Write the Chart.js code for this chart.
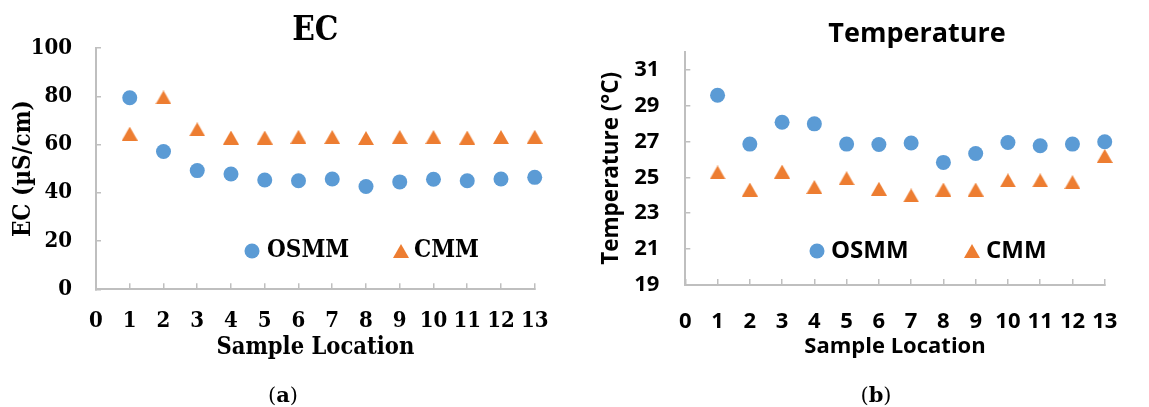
<!DOCTYPE html>
<html><head><meta charset="utf-8">
<script src="https://cdn.jsdelivr.net/npm/chart.js@4.4.1/dist/chart.umd.min.js"></script>
<style>
html,body{margin:0;padding:0;background:#fff;}
#wrap{position:relative;width:1149px;height:407px;overflow:hidden;background:#fff;}
canvas{position:absolute;top:0;}
#c1{left:0;} #c2{left:575px;}
.cap{position:absolute;top:381px;width:60px;margin-left:-30px;text-align:center;font:21px 'DejaVu Serif',serif;color:#000;line-height:28px;}
</style></head><body>
<div id="wrap">
<canvas id="c1" width="575" height="407"></canvas>
<canvas id="c2" width="574" height="407"></canvas>
<div class="cap" style="left:283px">(<b>a</b>)</div>
<div class="cap" style="left:876px">(<b>b</b>)</div>
</div>
<script>
// ---- data ----
const sampleLocations = [1,2,3,4,5,6,7,8,9,10,11,12,13];
const xTickValues = [0,1,2,3,4,5,6,7,8,9,10,11,12,13];
const ecOSMM = [79.4, 57.1, 49.2, 47.8, 45.3, 45.0, 45.7, 42.6, 44.5, 45.6, 45.0, 45.7, 46.4];
const ecCMM  = [64.5, 79.5, 66.3, 62.9, 62.9, 63.2, 63.1, 62.7, 63.1, 63.1, 62.9, 63.1, 63.2];
const ecTicks = [0,20,40,60,80,100];
const tempOSMM = [29.57, 26.85, 28.07, 27.98, 26.85, 26.83, 26.91, 25.83, 26.33, 26.94, 26.76, 26.85, 26.98];
const tempCMM  = [25.27, 24.32, 25.32, 24.46, 24.95, 24.36, 23.99, 24.32, 24.32, 24.83, 24.83, 24.73, 26.19];
const tempTicks = [19,21,23,25,27,29,31];

// ---- styles ----
const BLUE = '#5B9BD5', ORANGE = '#ED7D31', AX = '#BFBFBF';
const SERIF = "'DejaVu Serif Condensed', 'DejaVu Serif', serif";
const SW = 'bold condensed';
const SANS = "'Open Sans', sans-serif";

function triangleImg(w, h, color){
  const c = document.createElement('canvas'); c.width = w; c.height = h;
  const g = c.getContext('2d'); g.fillStyle = color;
  g.beginPath(); g.moveTo(w/2, 0); g.lineTo(w, h); g.lineTo(0, h); g.closePath(); g.fill();
  return c;
}
const tri = triangleImg(16, 14, ORANGE);

const insideLegend = {
  id: 'insideLegend',
  afterDraw(chart, args, opts){
    const ctx = chart.ctx;
    ctx.save();
    ctx.font = opts.font; ctx.fillStyle = '#000'; ctx.textBaseline = 'middle'; ctx.textAlign = 'left';
    chart.data.datasets.forEach((ds, i) => {
      const it = opts.items[i];
      if (ds.pointStyle === 'circle') {
        ctx.fillStyle = ds.backgroundColor;
        ctx.beginPath(); ctx.arc(it.mx, it.y, 7.5, 0, Math.PI*2); ctx.fill();
      } else {
        ctx.drawImage(ds.pointStyle, it.mx - ds.pointStyle.width/2, it.y - ds.pointStyle.height/2);
      }
      ctx.fillStyle = '#000';
      ctx.fillText(ds.label, it.tx, it.y);
    });
    ctx.restore();
  }
};
const titleShift = {
  id: 'titleShift',
  afterLayout(chart, args, opts){
    const t = chart.titleBlock;
    if (t && opts.dx) { t.left += opts.dx; t.right += opts.dx; }
  }
};

function pts(ys){ return sampleLocations.map((x, i) => ({x, y: ys[i]})); }

function makeChart(id, c){
  return new Chart(document.getElementById(id), {
    type: 'scatter',
    data: { datasets: [
      {label: 'OSMM', data: pts(c.osmm), pointStyle: 'circle', pointRadius: 7.5, backgroundColor: BLUE, borderWidth: 0, clip: false},
      {label: 'CMM', data: pts(c.cmm), pointStyle: tri, pointRadius: 8, backgroundColor: ORANGE, borderWidth: 0, clip: false}
    ]},
    options: {
      responsive: false, animation: false, events: [], devicePixelRatio: 1,
      layout: {padding: c.pad},
      plugins: {
        legend: {display: false}, tooltip: {enabled: false},
        title: {display: true, text: c.title, fullSize: false, color: '#000',
          font: {family: c.family, weight: c.weight, size: c.titleSize, lineHeight: 1}, padding: c.titlePad},
        insideLegend: {font: c.legendFont, items: c.legendItems},
        titleShift: {dx: c.titleDx}
      },
      scales: {
        x: {
          type: 'linear', min: 0, max: 13,
          afterBuildTicks: s => { s.ticks = xTickValues.map(v => ({value: v})); },
          afterFit: s => { s.height = c.xHeight; },
          grid: {drawOnChartArea: false, drawTicks: true, tickLength: -6, color: AX, lineWidth: 1.5},
          border: {display: true, color: AX, width: 2},
          ticks: {autoSkip: false, maxRotation: 0, minRotation: 0, padding: c.xTickPad, color: '#000',
            font: {family: c.family, weight: c.weight, size: c.tickSize, lineHeight: 1}},
          title: {display: true, text: 'Sample Location', color: '#000',
            font: {family: c.family, weight: c.weight, size: c.xTitleSize, lineHeight: 1}, padding: {top: 0, bottom: c.xTitlePadB}}
        },
        y: {
          type: 'linear', min: c.ymin, max: c.ymax,
          afterBuildTicks: s => { s.ticks = c.yTicks.map(v => ({value: v})); },
          afterFit: s => { s.width = c.yWidth; },
          grid: {drawOnChartArea: false, drawTicks: true, tickLength: -5, color: AX, lineWidth: 1.5},
          border: {display: true, color: AX, width: 2},
          ticks: {padding: c.yTickPad, color: '#000',
            font: {family: c.family, weight: c.weight, size: c.tickSize, lineHeight: 1}},
          title: {display: true, text: c.yTitle, color: '#000',
            font: {family: c.family, weight: c.weight, size: c.yTitleSize, lineHeight: 1}, padding: {top: c.yTitlePadT, bottom: 0}}
        }
      }
    },
    plugins: [insideLegend, titleShift]
  });
}

makeChart('c1', {
  osmm: ecOSMM, cmm: ecCMM, ymin: 0, ymax: 100, yTicks: ecTicks,
  title: 'EC', yTitle: 'EC (µS/cm)', family: SERIF, weight: SW,
  pad: {left: 0, right: 36, top: 0, bottom: 40},
  titleSize: 33, titlePad: {top: 15, bottom: 0}, titleDx: 0,
  tickSize: 22, xTickPad: 26.5, yTickPad: 29,
  xHeight: 77.7, yWidth: 96,
  xTitleSize: 23.5, xTitlePadB: 7.3,
  yTitleSize: 24, yTitlePadT: 12,
  legendFont: "bold condensed 24px " + SERIF,
  legendItems: [{mx: 252, tx: 267, y: 251}, {mx: 401, tx: 414, y: 251}]
});

makeChart('c2', {
  osmm: tempOSMM, cmm: tempCMM, ymin: 19, ymax: 32, yTicks: tempTicks,
  title: 'Temperature', yTitle: 'Temperature (°C)', family: SANS, weight: 'bold',
  pad: {left: 0, right: 14.7, top: 0, bottom: 40},
  titleSize: 27, titlePad: {top: 20.5, bottom: 4.2}, titleDx: 22,
  tickSize: 22, xTickPad: 31.7, yTickPad: 31,
  xHeight: 82, yWidth: 110.3,
  xTitleSize: 22, xTitlePadB: 9.3,
  yTitleSize: 22.5, yTitlePadT: 25,
  legendFont: "bold 24px " + SANS,
  legendItems: [{mx: 242, tx: 256, y: 251}, {mx: 397, tx: 411, y: 251}]
});
</script>
</body></html>
